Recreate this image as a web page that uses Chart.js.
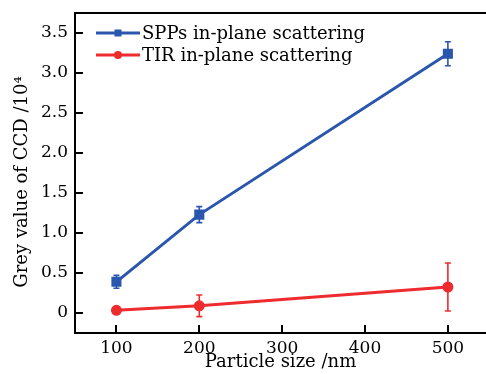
<!DOCTYPE html>
<html>
<head>
<meta charset="utf-8">
<script src="https://cdn.jsdelivr.net/npm/chart.js@4/dist/chart.umd.min.js"></script>
<style>
html,body{margin:0;padding:0;background:#fff;}
#wrap{width:486px;height:374px;position:relative;}
</style>
</head>
<body>
<div id="wrap"><canvas id="c" width="486" height="374"></canvas></div>
<script>
const particleSizes = [100, 200, 500];
const sppValues = [0.39, 1.23, 3.24];
const sppErrors = [0.08, 0.10, 0.15];
const tirValues = [0.034, 0.09, 0.325];
const tirErrors = [0.01, 0.135, 0.30];
const xTicks = [100, 200, 300, 400, 500];
const yTicks = [0, 0.5, 1.0, 1.5, 2.0, 2.5, 3.0, 3.5];
const seriesLabels = ['SPPs in-plane scattering', 'TIR in-plane scattering'];
const xTitle = 'Particle size /nm';
const yTitle = 'Grey value of CCD /10\u2074';

const BLUE = '#2b56ad';
const RED = '#ee2b2e';
const FONT = 'DejaVu Serif';

const errors = [sppErrors, tirErrors];

const decorPlugin = {
  id: 'decor',
  afterDatasetsDraw(chart) {
    const ctx = chart.ctx;
    const xs = chart.scales.x, ys = chart.scales.y;
    const area = chart.chartArea;
    ctx.save();
    // error bars
    chart.data.datasets.forEach((ds, i) => {
      ctx.strokeStyle = ds.borderColor;
      ctx.lineWidth = 1.6;
      ds.data.forEach((p, j) => {
        const e = errors[i][j];
        const px = xs.getPixelForValue(p.x);
        const top = ys.getPixelForValue(p.y + e);
        const bot = ys.getPixelForValue(p.y - e);
        ctx.beginPath();
        ctx.moveTo(px, top); ctx.lineTo(px, bot);
        ctx.moveTo(px - 3, top); ctx.lineTo(px + 3, top);
        ctx.moveTo(px - 3, bot); ctx.lineTo(px + 3, bot);
        ctx.stroke();
      });
    });
    // inner ticks
    ctx.strokeStyle = '#000';
    ctx.lineWidth = 2;
    yTicks.forEach(v => {
      const py = Math.round(ys.getPixelForValue(v));
      ctx.beginPath();
      ctx.moveTo(area.left, py); ctx.lineTo(area.left + 8, py);
      ctx.stroke();
    });
    xTicks.forEach(v => {
      const px = Math.round(xs.getPixelForValue(v));
      ctx.beginPath();
      ctx.moveTo(px, area.bottom); ctx.lineTo(px, area.bottom - 8);
      ctx.stroke();
    });
    // top frame line
    ctx.beginPath();
    ctx.moveTo(area.left - 1, area.top); ctx.lineTo(chart.width, area.top);
    ctx.stroke();
    // y axis title
    ctx.save();
    ctx.translate(22, (area.top + area.bottom) / 2 + 9);
    ctx.rotate(-Math.PI / 2);
    ctx.font = '18px "' + FONT + '"';
    ctx.fillStyle = '#000';
    ctx.textAlign = 'center';
    ctx.textBaseline = 'middle';
    ctx.fillText(yTitle, 0, 0);
    ctx.restore();
    // legend
    ctx.font = '18px "' + FONT + '"';
    ctx.textBaseline = 'middle';
    ctx.textAlign = 'left';
    chart.data.datasets.forEach((ds, i) => {
      const ly = area.top + 20 + i * 22;
      const x0 = area.left + 21, x1 = area.left + 65;
      ctx.strokeStyle = ds.borderColor;
      ctx.lineWidth = 3;
      ctx.beginPath(); ctx.moveTo(x0, ly); ctx.lineTo(x1, ly); ctx.stroke();
      ctx.fillStyle = ds.borderColor;
      const mx = (x0 + x1) / 2;
      if (ds.pointStyle === 'rect') {
        ctx.fillRect(mx - 3.5, ly - 3.5, 7, 7);
      } else {
        ctx.beginPath(); ctx.arc(mx, ly, 4, 0, Math.PI * 2); ctx.fill();
      }
      ctx.fillStyle = '#000';
      ctx.fillText(ds.label, x1 + 2, ly + 1);
    });
    ctx.restore();
  }
};

new Chart(document.getElementById('c'), {
  type: 'line',
  data: {
    datasets: [
      {
        label: seriesLabels[0],
        data: particleSizes.map((x, i) => ({x, y: sppValues[i]})),
        borderColor: BLUE, backgroundColor: BLUE,
        borderWidth: 3, pointStyle: 'rect', pointRadius: 5, pointHoverRadius: 5,
        tension: 0
      },
      {
        label: seriesLabels[1],
        data: particleSizes.map((x, i) => ({x, y: tirValues[i]})),
        borderColor: RED, backgroundColor: RED,
        borderWidth: 3, pointStyle: 'circle', pointRadius: 4, pointHoverRadius: 4,
        tension: 0
      }
    ]
  },
  options: {
    responsive: false,
    animation: false,
    events: [],
    layout: { autoPadding: false, padding: { left: 0, right: 0, top: 13, bottom: 0 } },
    plugins: { legend: { display: false }, tooltip: { enabled: false } },
    scales: {
      x: {
        type: 'linear',
        min: 50, max: 546,
        afterBuildTicks: s => { s.ticks = xTicks.map(v => ({value: v})); },
        afterFit: s => { s.height = 41; s.paddingLeft = 0; s.paddingRight = 0; },
        grid: { display: false, drawTicks: false },
        border: { display: true, color: '#000', width: 2 },
        ticks: { color: '#000', font: { family: FONT, size: 17 }, padding: 5, maxRotation: 0,
                 callback: v => String(v) },
        title: { display: true, text: xTitle, color: '#000', font: { family: FONT, size: 18 }, padding: { top: 0, bottom: 1 } }
      },
      y: {
        type: 'linear',
        min: -0.25, max: 3.75,
        afterBuildTicks: s => { s.ticks = yTicks.map(v => ({value: v})); },
        afterFit: s => { s.width = 75; s.paddingTop = 0; s.paddingBottom = 0; },
        grid: { display: false, drawTicks: false },
        border: { display: true, color: '#000', width: 2 },
        ticks: { color: '#000', font: { family: FONT, size: 17 }, padding: 7,
                 callback: v => v === 0 ? '0' : v.toFixed(1) },
        title: { display: false }
      }
    }
  },
  plugins: [decorPlugin]
});
</script>
</body>
</html>
